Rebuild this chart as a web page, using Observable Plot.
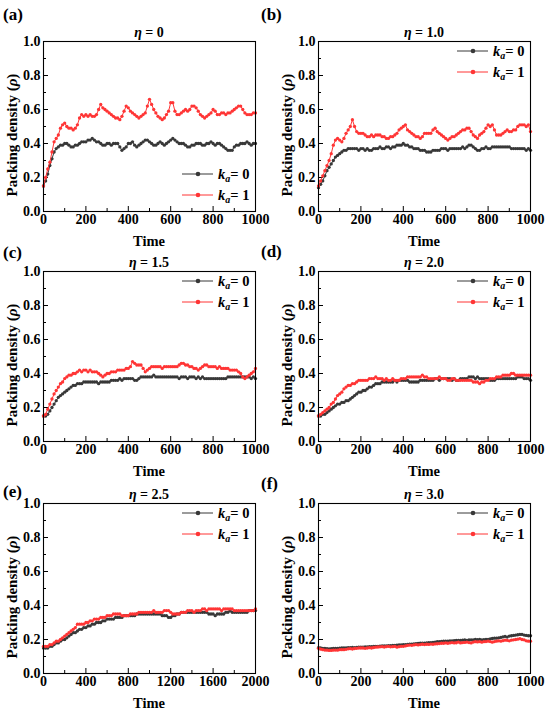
<!DOCTYPE html>
<html><head><meta charset="utf-8">
<script src="https://cdn.jsdelivr.net/npm/d3@7"></script>
<script src="https://cdn.jsdelivr.net/npm/@observablehq/plot@0.6"></script>
<style>
body{margin:0;background:#fff;}
#fig{position:relative;width:550px;height:713px;overflow:hidden;background:#fff;}
.panel{position:absolute;}
</style></head><body><div id="fig"></div>
<script>
const GRAY = "#383838", RED = "#ff3535";
const t1000 = d3.range(0, 1001, 10);
const t2000 = d3.range(0, 2001, 20);
const yTicks = [0, 0.2, 0.4, 0.6, 0.8, 1.0];
const yMinor = [0.1, 0.3, 0.5, 0.7, 0.9];
const xTicks1000 = [0, 200, 400, 600, 800, 1000];
const xMinor1000 = [100, 300, 500, 700, 900];
const xTicks2000 = [0, 400, 800, 1200, 1600, 2000];
const xMinor2000 = [200, 600, 1000, 1400, 1800];
const legendLabels = ["0", "1"];

const a_k1 = [.15,.20,.25,.29,.35,.41,.43,.45,.49,.51,
.52,.50,.49,.49,.48,.49,.51,.55,.57,.56,
.57,.56,.57,.56,.56,.57,.60,.63,.61,.60,
.59,.58,.57,.56,.55,.55,.54,.56,.59,.62,
.61,.59,.58,.57,.56,.55,.56,.57,.58,.62,
.66,.63,.60,.58,.56,.55,.54,.55,.57,.59,
.64,.64,.59,.57,.57,.58,.59,.60,.59,.60,
.62,.62,.61,.59,.57,.56,.55,.56,.57,.58,
.60,.59,.57,.57,.58,.58,.57,.58,.58,.59,
.60,.61,.62,.62,.60,.58,.57,.57,.57,.58,.58];
const a_k0 = [.15,.18,.22,.27,.31,.35,.37,.38,.39,.39,
.40,.40,.39,.38,.38,.39,.39,.40,.41,.41,
.41,.42,.42,.43,.42,.41,.41,.40,.39,.39,
.40,.40,.39,.40,.40,.40,.38,.36,.37,.38,
.40,.40,.41,.39,.38,.39,.40,.41,.42,.42,
.41,.40,.39,.39,.40,.41,.40,.39,.40,.41,
.42,.43,.42,.41,.40,.40,.40,.39,.38,.38,
.39,.39,.40,.40,.40,.39,.39,.40,.40,.41,
.40,.39,.40,.40,.39,.38,.37,.36,.36,.36,
.38,.39,.39,.40,.40,.40,.41,.40,.39,.40,.40];
const b_k1 = [.15,.18,.21,.24,.27,.30,.34,.39,.42,.43,
.42,.41,.43,.46,.48,.50,.54,.50,.47,.46,
.46,.46,.45,.44,.44,.45,.44,.45,.45,.45,
.44,.44,.43,.43,.44,.44,.45,.46,.48,.49,
.50,.51,.48,.47,.46,.45,.44,.44,.43,.44,
.46,.46,.46,.46,.48,.49,.47,.46,.45,.44,
.43,.42,.43,.44,.44,.45,.46,.47,.48,.48,
.49,.49,.47,.45,.44,.43,.45,.46,.47,.49,
.51,.50,.51,.48,.45,.45,.45,.46,.47,.48,
.47,.47,.48,.48,.50,.51,.51,.51,.50,.51,.47];
const b_k0 = [.14,.16,.18,.21,.24,.26,.28,.30,.32,.33,
.34,.35,.36,.36,.37,.37,.37,.37,.37,.36,
.37,.37,.36,.37,.36,.36,.37,.37,.37,.38,
.37,.37,.38,.38,.37,.38,.38,.39,.39,.39,
.40,.39,.39,.38,.38,.37,.37,.37,.36,.36,
.36,.35,.35,.35,.36,.36,.36,.36,.37,.37,
.37,.36,.37,.37,.37,.37,.37,.37,.38,.37,
.38,.39,.39,.38,.37,.36,.36,.37,.37,.38,
.37,.37,.38,.38,.38,.38,.38,.38,.38,.38,
.38,.37,.37,.37,.37,.37,.37,.37,.36,.37,.36];
const c_k1 = [.15,.16,.19,.22,.25,.28,.30,.32,.34,.35,
.37,.38,.39,.39,.40,.40,.41,.42,.41,.42,
.42,.41,.42,.41,.41,.41,.40,.39,.38,.39,
.40,.40,.41,.41,.41,.42,.42,.42,.42,.43,
.43,.44,.47,.46,.45,.45,.45,.43,.41,.42,
.43,.44,.44,.44,.44,.44,.43,.44,.44,.44,
.44,.44,.44,.44,.45,.46,.46,.45,.45,.44,
.44,.43,.43,.42,.43,.44,.45,.45,.44,.44,
.44,.44,.43,.44,.43,.43,.43,.43,.42,.42,
.42,.42,.41,.40,.38,.37,.38,.39,.40,.41,.43];
const c_k0 = [.15,.15,.16,.18,.20,.22,.24,.26,.27,.28,
.29,.30,.31,.32,.33,.33,.34,.34,.34,.35,
.35,.35,.35,.35,.35,.35,.34,.35,.35,.35,
.35,.35,.36,.36,.36,.36,.37,.36,.37,.37,
.37,.37,.37,.36,.36,.37,.38,.38,.38,.38,
.38,.38,.39,.38,.38,.38,.38,.38,.38,.38,
.38,.38,.38,.38,.37,.38,.38,.38,.37,.38,
.38,.38,.37,.38,.37,.38,.37,.37,.37,.37,
.37,.37,.37,.37,.37,.37,.37,.38,.38,.38,
.38,.38,.38,.38,.38,.38,.38,.38,.37,.38,.37];
const d_k1 = [.15,.16,.17,.18,.19,.20,.22,.23,.25,.27,
.28,.29,.31,.32,.33,.33,.34,.34,.35,.36,
.36,.36,.36,.36,.37,.37,.37,.38,.37,.37,
.37,.36,.37,.36,.36,.37,.36,.36,.36,.37,
.37,.37,.38,.38,.38,.38,.38,.38,.38,.39,
.38,.38,.37,.37,.37,.37,.37,.38,.37,.37,
.37,.36,.36,.37,.37,.36,.36,.36,.36,.36,
.36,.36,.36,.35,.35,.35,.34,.35,.35,.36,
.36,.37,.37,.37,.38,.38,.38,.39,.39,.39,
.39,.40,.40,.39,.39,.39,.39,.39,.39,.39,.39];
const d_k0 = [.15,.15,.16,.16,.17,.18,.19,.20,.21,.22,
.22,.23,.23,.24,.24,.25,.26,.27,.28,.29,
.29,.30,.30,.31,.32,.32,.33,.34,.34,.34,
.35,.35,.35,.35,.35,.35,.36,.35,.36,.36,
.36,.36,.36,.35,.35,.35,.35,.35,.36,.36,
.36,.36,.36,.36,.36,.37,.37,.36,.37,.37,
.37,.37,.37,.36,.37,.36,.36,.37,.37,.37,
.37,.38,.38,.38,.37,.38,.37,.37,.37,.37,
.37,.36,.36,.36,.37,.37,.37,.37,.37,.37,
.37,.37,.37,.37,.38,.38,.38,.37,.37,.37,.36];
const e_k1 = [.16,.16,.16,.17,.17,.18,.19,.19,.20,.21,
.22,.23,.24,.25,.26,.27,.29,.29,.29,.29,
.30,.30,.31,.31,.32,.32,.32,.33,.33,.33,
.34,.34,.34,.35,.35,.35,.35,.34,.34,.34,
.34,.35,.35,.35,.35,.36,.36,.36,.36,.36,
.36,.36,.37,.36,.36,.36,.36,.37,.37,.37,
.36,.35,.35,.35,.35,.36,.36,.36,.37,.37,
.37,.36,.37,.37,.37,.38,.38,.37,.38,.38,
.38,.38,.38,.38,.37,.38,.38,.38,.38,.38,
.37,.37,.37,.37,.37,.37,.37,.37,.37,.37,.38];
const e_k0 = [.15,.15,.15,.16,.16,.17,.18,.18,.19,.20,
.20,.21,.22,.23,.24,.24,.25,.26,.26,.27,
.27,.28,.28,.29,.29,.30,.30,.30,.31,.31,
.32,.32,.32,.32,.33,.33,.33,.33,.34,.34,
.34,.34,.34,.34,.35,.35,.35,.35,.35,.35,
.35,.35,.35,.35,.35,.35,.34,.34,.34,.33,
.33,.34,.34,.35,.35,.36,.36,.36,.36,.36,
.36,.36,.36,.36,.36,.36,.36,.36,.35,.35,
.35,.34,.35,.35,.35,.35,.36,.36,.37,.36,
.36,.36,.36,.36,.36,.36,.36,.37,.37,.37,.37];
const f_k1 = [.148,.143,.14,.138,.137,.136,.136,.137,.138,.137,
.14,.14,.14,.142,.145,.146,.144,.147,.148,.15,
.15,.15,.148,.15,.152,.15,.153,.155,.156,.157,
.158,.156,.158,.16,.157,.158,.16,.155,.158,.16,
.16,.162,.165,.167,.166,.168,.17,.168,.17,.172,
.17,.172,.171,.173,.172,.174,.175,.176,.178,.178,
.18,.178,.18,.182,.18,.181,.185,.18,.182,.183,
.185,.182,.18,.185,.187,.186,.188,.184,.187,.188,
.19,.188,.184,.188,.19,.192,.19,.193,.196,.195,
.192,.196,.198,.2,.202,.205,.2,.198,.192,.19,.19];
const f_k0 = [.152,.15,.148,.147,.146,.145,.146,.147,.148,.148,
.149,.15,.15,.151,.152,.152,.153,.152,.154,.155,
.155,.155,.156,.157,.158,.158,.159,.16,.16,.161,
.162,.162,.163,.164,.164,.165,.166,.167,.168,.168,
.169,.17,.171,.172,.173,.174,.176,.177,.178,.178,
.179,.18,.181,.182,.183,.185,.187,.188,.189,.19,
.19,.191,.192,.192,.193,.194,.194,.195,.196,.197,
.195,.197,.198,.198,.2,.199,.2,.198,.199,.2,
.2,.204,.206,.208,.208,.21,.212,.215,.218,.214,
.22,.222,.224,.226,.228,.23,.23,.226,.224,.222,.222];

const panels = [
  {tag: "(a)", eta: "0",   col: 0, row: 0, t: t1000, k0: a_k0, k1: a_k1, xt: xTicks1000, xm: xMinor1000, xmax: 1000, legendPos: "bottom", tagY: 20},
  {tag: "(b)", eta: "1.0", col: 1, row: 0, t: t1000, k0: b_k0, k1: b_k1, xt: xTicks1000, xm: xMinor1000, xmax: 1000, legendPos: "top", tagY: 20},
  {tag: "(c)", eta: "1.5", col: 0, row: 1, t: t1000, k0: c_k0, k1: c_k1, xt: xTicks1000, xm: xMinor1000, xmax: 1000, legendPos: "top", tagY: 28},
  {tag: "(d)", eta: "2.0", col: 1, row: 1, t: t1000, k0: d_k0, k1: d_k1, xt: xTicks1000, xm: xMinor1000, xmax: 1000, legendPos: "top", tagY: 27},
  {tag: "(e)", eta: "2.5", col: 0, row: 2, t: t2000, k0: e_k0, k1: e_k1, xt: xTicks2000, xm: xMinor2000, xmax: 2000, legendPos: "top", tagY: 35},
  {tag: "(f)", eta: "3.0", col: 1, row: 2, t: t1000, k0: f_k0, k1: f_k1, xt: xTicks1000, xm: xMinor1000, xmax: 1000, legendPos: "top", tagY: 27}
];

const rowTop = [0, 230, 462];
const colLeft = [0, 255], colWidth = [275, 295], colML = [43, 63], tagX = [3, 6];
const MR = 20, MT = 41, MB = 39, H = 250;
const FONT = '"Liberation Serif", "Times New Roman", serif';
const fig = document.getElementById("fig");

panels.forEach(p => {
  const ML = colML[p.col], W = colWidth[p.col];
  const pw = W - ML - MR, ph = H - MT - MB;
  const majY = 5 / ph, minY = 3 / ph;
  const majX = 5 / pw * p.xmax, minX = 3 / pw * p.xmax;
  const d0 = p.k0.map((v, i) => ({t: p.t[i], rho: v}));
  const d1 = p.k1.map((v, i) => ({t: p.t[i], rho: v}));
  const chart = Plot.plot({
    width: W, height: H,
    marginLeft: ML, marginRight: MR, marginTop: MT, marginBottom: MB,
    x: {domain: [0, p.xmax]},
    y: {domain: [0, 1]},
    style: {fontFamily: FONT, fontWeight: "bold", fontSize: "14px", background: "transparent", overflow: "visible", color: "#000"},
    marks: [
      Plot.ruleX(p.xt, {x: d => d, y1: 0, y2: majY, stroke: "#000", strokeWidth: 1}),
      Plot.ruleX(p.xm, {x: d => d, y1: 0, y2: minY, stroke: "#000", strokeWidth: 1}),
      Plot.ruleY(yTicks, {y: d => d, x1: 0, x2: majX, stroke: "#000", strokeWidth: 1}),
      Plot.ruleY(yMinor, {y: d => d, x1: 0, x2: minX, stroke: "#000", strokeWidth: 1}),
      Plot.axisX(p.xt, {tickSize: 0, tickPadding: 3, label: null, fontSize: 14, fontWeight: "bold", fontFamily: FONT, tickFormat: d => `${d}`}),
      Plot.axisY(yTicks, {tickSize: 0, tickPadding: 3, label: null, fontSize: 14, fontWeight: "bold", fontFamily: FONT, tickFormat: d3.format(".1f")}),
      Plot.line(d0, {x: "t", y: "rho", stroke: GRAY, strokeWidth: 1}),
      Plot.dot(d0, {x: "t", y: "rho", r: 1.65, fill: GRAY}),
      Plot.line(d1, {x: "t", y: "rho", stroke: RED, strokeWidth: 1}),
      Plot.dot(d1, {x: "t", y: "rho", r: 1.65, fill: RED}),
      Plot.frame({stroke: "#000", strokeWidth: 1.1})
    ]
  });
  const div = document.createElement("div");
  div.className = "panel";
  div.style.left = colLeft[p.col] + "px";
  div.style.top = rowTop[p.row] + "px";
  div.appendChild(chart);
  fig.appendChild(div);

  const svg = d3.select(chart);
  const [x0, x1] = chart.scale("x").range;
  const [yb, yt] = chart.scale("y").range;
  const g = svg.append("g").attr("font-family", FONT).attr("font-weight", "bold")
    .attr("fill", "#000").attr("text-anchor", "start");

  // panel tag
  g.append("text").attr("x", tagX[p.col]).attr("y", p.tagY).attr("font-size", 17).text(p.tag);

  // title
  const ti = g.append("text").attr("x", (x0 + x1) / 2).attr("y", yt - 4).attr("text-anchor", "middle").attr("font-size", 14);
  ti.append("tspan").attr("font-style", "italic").text("η");
  ti.append("tspan").text(" = " + p.eta);

  // x label
  g.append("text").attr("x", (x0 + x1) / 2).attr("y", yb + 35).attr("text-anchor", "middle").attr("font-size", 14.5).text("Time");

  // y label
  const yl = g.append("text").attr("transform", `translate(${x0 - 31},${yt + 94}) rotate(-90)`)
    .attr("text-anchor", "middle").attr("dominant-baseline", "central").attr("font-size", 15);
  yl.append("tspan").text("Packing density (");
  yl.append("tspan").attr("font-style", "italic").text("ρ");
  yl.append("tspan").text(")");

  // legend
  const rows = p.legendPos === "top" ? [yt + 10, yt + 31] : [yb - 37, yb - 16];
  [GRAY, RED].forEach((c, i) => {
    const y = rows[i];
    g.append("line").attr("x1", x1 - 73).attr("x2", x1 - 42).attr("y1", y).attr("y2", y).attr("stroke", c).attr("stroke-width", 1);
    g.append("circle").attr("cx", x1 - 57).attr("cy", y).attr("r", 2.3).attr("fill", c);
    const tx = g.append("text").attr("x", x1 - 37).attr("y", y + 4.5).attr("font-size", 14.5);
    tx.append("tspan").attr("font-style", "italic").text("k");
    tx.append("tspan").attr("font-style", "italic").attr("font-size", 10).attr("dy", 3).text("a");
    tx.append("tspan").attr("dy", -3).text("= " + legendLabels[i]);
  });
});
</script></body></html>
